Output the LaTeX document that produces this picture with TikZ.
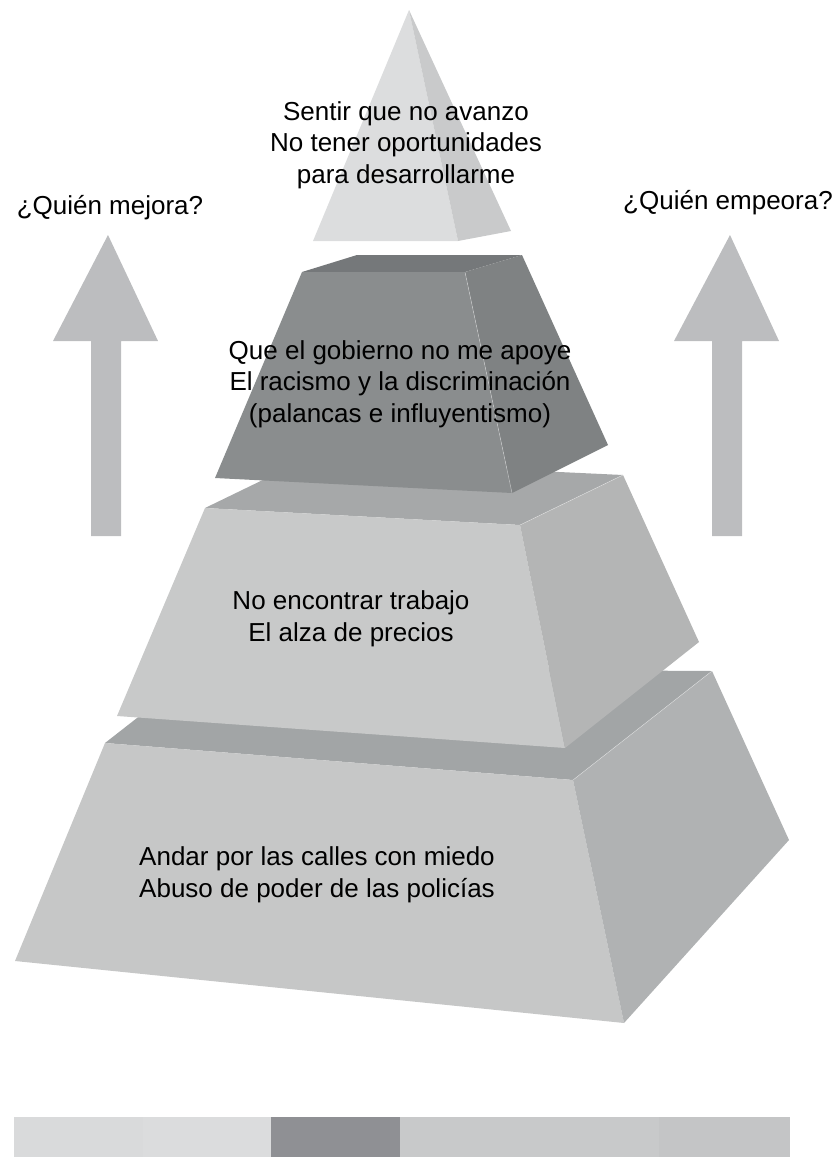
\documentclass[tikz,border=0pt]{standalone}
\usepackage{fontspec}
\setmainfont{Liberation Sans}
\usepackage{tikz}
\usetikzlibrary{positioning, calc}
\usepackage{xcolor}
\definecolor{peakfront}{RGB}{220, 221, 222}
\definecolor{peakside}{RGB}{201, 202, 203}
\definecolor{darkfront}{RGB}{138, 141, 142}
\definecolor{darkside}{RGB}{127, 130, 131}
\definecolor{darktop}{RGB}{117, 120, 122}
\definecolor{midfront}{RGB}{200, 201, 201}
\definecolor{midside}{RGB}{180, 181, 181}
\definecolor{midtop}{RGB}{166, 168, 169}
\definecolor{basefront}{RGB}{198, 199, 199}
\definecolor{baseside}{RGB}{176, 178, 179}
\definecolor{basetop}{RGB}{162, 165, 166}
\definecolor{arrowgray}{RGB}{188, 189, 191}
\definecolor{barA}{RGB}{217, 218, 219}
\definecolor{barB}{RGB}{219, 220, 221}
\definecolor{barC}{RGB}{143, 144, 148}
\definecolor{barD}{RGB}{200, 201, 202}
\definecolor{barE}{RGB}{196, 197, 198}

\begin{document}
\begin{tikzpicture}[x=1pt, y=-1pt,
    pyrtext/.style={font=\fontsize{26}{31.5}\selectfont, align=center, inner sep=0pt},
    ridge/.style={draw=white, draw opacity=0.45, line width=0.5pt}]
  \useasboundingbox (0,0) rectangle (838,1157);

  % base block
  \fill[basetop] (105,743) -- (201,668) -- (712,671) -- (573,780) -- cycle;
  \fill[basefront] (105,743) -- (573,780) -- (624,1023) -- (15,961) -- cycle;
  \fill[baseside] (573,780) -- (712,671) -- (789,840) -- (624,1023) -- cycle;
  \draw[ridge] (573,780) -- (712,671);

  % third block
  \fill[midtop] (205,508) -- (304,460) -- (623,475) -- (520,525) -- cycle;
  \fill[midfront] (205,508) -- (520,525) -- (565,748) -- (117,716) -- cycle;
  \fill[midside] (520,525) -- (623,475) -- (699,642) -- (565,748) -- cycle;
  \draw[ridge] (520,525) -- (623,475);

  % dark block
  \fill[darktop] (302,272) -- (357,255) -- (522,255) -- (465,272) -- cycle;
  \fill[darkfront] (302,272) -- (465,272) -- (512,493) -- (215,478) -- cycle;
  \fill[darkside] (465,272) -- (522,255) -- (608,445) -- (512,493) -- cycle;
  \draw[ridge] (465,272) -- (512,493);

  % peak
  \fill[peakfront] (409,10) -- (313,241) -- (458,241) -- cycle;
  \fill[peakside] (409,10) -- (458,241) -- (511,231) -- cycle;

  % side arrows
  \fill[arrowgray] (108,235) -- (158,341) -- (121,341) -- (121,536)
    -- (91,536) -- (91,341) -- (53,341) -- cycle;
  \fill[arrowgray] (730,235) -- (779,341) -- (742,341) -- (742,536)
    -- (712,536) -- (712,341) -- (674,341) -- cycle;

  % colour bar
  \fill[barA] (14,1117) rectangle (143,1157);
  \fill[barB] (143,1117) rectangle (271,1157);
  \fill[barC] (271,1117) rectangle (400,1157);
  \fill[barD] (400,1117) rectangle (529,1157);
  \fill[barD] (529,1117) rectangle (659,1157);
  \fill[barE] (659,1117) rectangle (790,1157);

  \node[pyrtext] (peak) at (406,145) {Sentir que no avanzo\\No tener oportunidades\\para desarrollarme};
  \node[pyrtext] (dark) at (400,384) {Que el gobierno no me apoye\\El racismo y la discriminación\\(palancas e influyentismo)};
  \node[pyrtext] (mid) at (351,619) {No encontrar trabajo\\El alza de precios};
  \node[pyrtext] (base) at (317,875) {Andar por las calles con miedo\\Abuso de poder de las policías};
  \node[pyrtext] (better) at (110,208) {¿Quién mejora?};
  \node[pyrtext] (worse) at (728,203) {¿Quién empeora?};
\end{tikzpicture}
\end{document}
